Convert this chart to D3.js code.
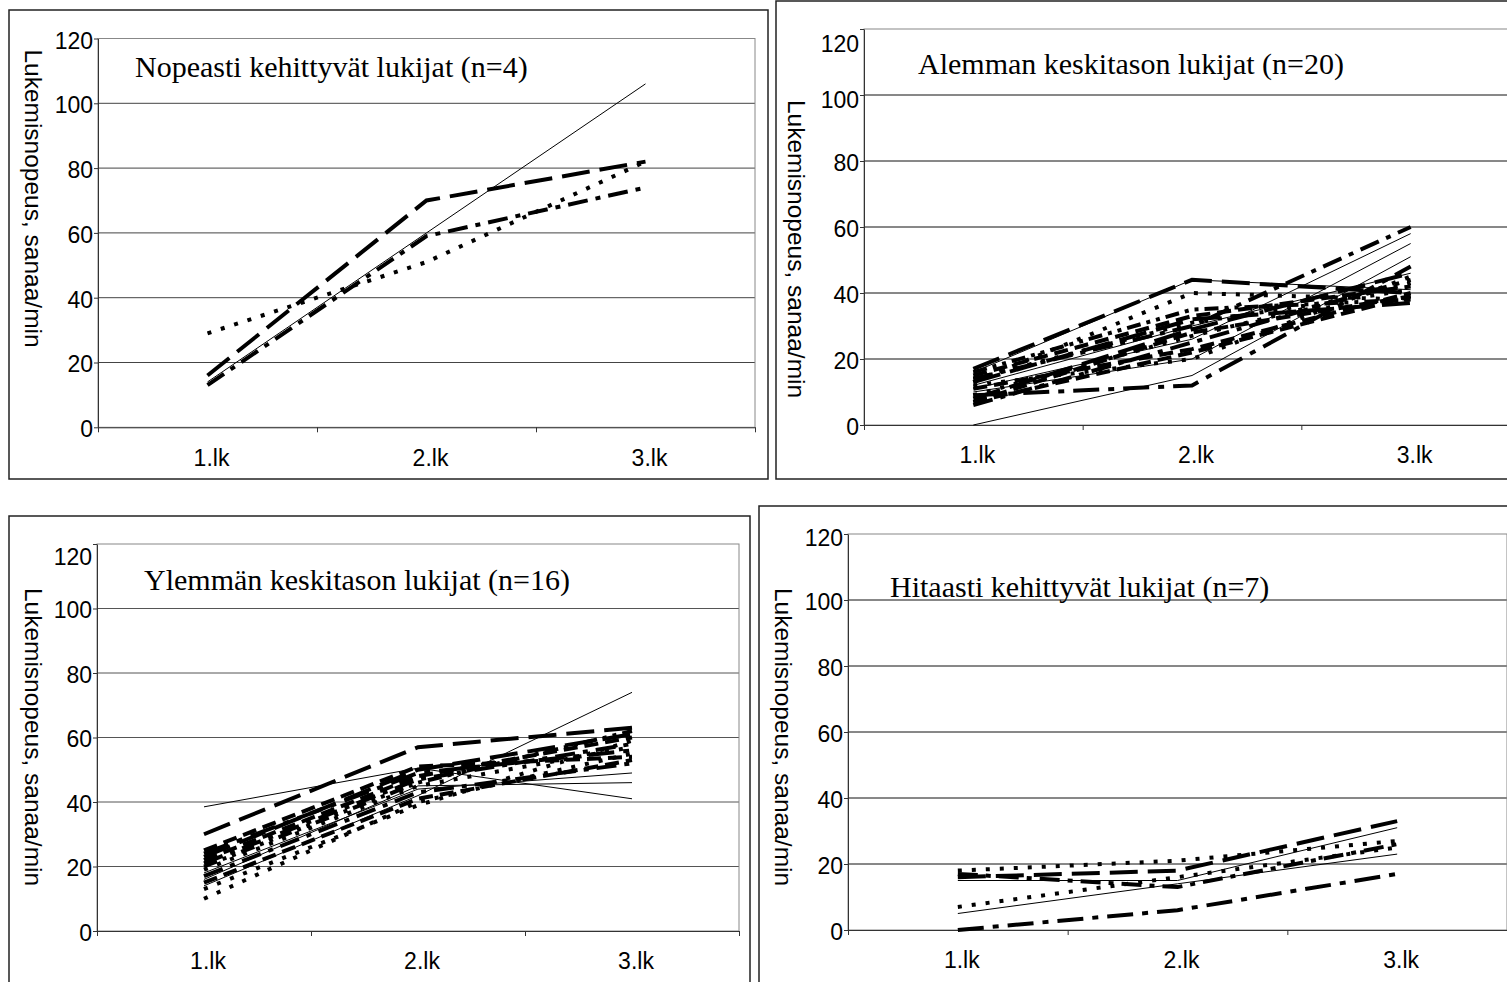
<!DOCTYPE html>
<html>
<head>
<meta charset="utf-8">
<script src="https://cdn.jsdelivr.net/npm/d3@7"></script>
<style>
body { margin: 0; background: #fff; }
svg { display: block; }
</style>
</head>
<body>
<svg id="chart" width="1507" height="982"></svg>
<script>
// data
const categories = ['1.lk', '2.lk', '3.lk'];
const yTicks = [0, 20, 40, 60, 80, 100, 120];
const yLabel = 'Lukemisnopeus, sanaa/min';
const titles = [
	'Nopeasti kehittyvät lukijat (n=4)',
	'Alemman keskitason lukijat (n=20)',
	'Ylemmän keskitason lukijat (n=16)',
	'Hitaasti kehittyvät lukijat (n=7)'
];

const fastValues = [[14, 60, 106], [16, 70, 82], [29, 51, 82], [13, 59, 74]];
const fastStyles = ['solid', 'longdash', 'dotted', 'dashdot'];

const lowerMidValues = [
	[0, 15, 51], [10, 20, 55], [16, 44, 41], [11, 26, 58], [12, 30, 46],
	[17, 44, 40], [13, 40, 38], [9, 12, 48], [12, 20, 45], [15, 33, 42],
	[14, 30, 60], [7, 28, 39], [6, 25, 44], [13, 32, 37], [9, 27, 43],
	[11, 23, 40], [16, 35, 38], [8, 29, 46], [14, 31, 41], [7, 22, 39]
];
const lowerMidStyles = [
	'solid', 'solid', 'solid', 'solid', 'solid',
	'longdash', 'dotted', 'longdashdot', 'dotted', 'dash',
	'dashdot', 'dash', 'dashdot', 'longdash', 'dotted',
	'dash', 'dashdotdot', 'longdash', 'dotted', 'dash'
];

const upperMidValues = [
	[38.5, 50.5, 41], [14, 42, 74], [16, 45, 46], [18, 44, 49],
	[30, 57, 63], [23, 50, 61], [21, 47, 58], [10, 40, 55],
	[22, 48, 60], [17, 43, 52], [19, 45, 57], [24, 49, 56],
	[15, 41, 53], [20, 46, 62], [13, 39, 59], [25, 51, 54]
];
const upperMidStyles = [
	'solid', 'solid', 'solid', 'solid',
	'longdash', 'longdash', 'dashdot', 'dotted',
	'dash', 'dashdot', 'dotted', 'longdashdot',
	'dash', 'dashdotdot', 'dotted', 'dash'
];

const slowValues = [[0, 6, 17], [5, 14, 23], [7, 16, 25], [15, 15, 31], [16, 18, 33], [18, 21, 27], [17, 13, 26]];
const slowStyles = ['longdashdot', 'solid', 'dotted', 'solid', 'longdash', 'dotted', 'dashdot'];

// line styles
const dashes = {
	solid: null,
	longdash: '28,10',
	dash: '14,7',
	dotted: '4,10',
	dashdot: '20,8,5,8',
	longdashdot: '26,9,6,9',
	dashdotdot: '14,6,4,6,4,6'
};

const svg = d3.select('#chart');
svg.append('rect').attr('width', 1507).attr('height', 982).attr('fill', '#fff');

// layout of the four panels: frame [x, y, w, h], plot [x0, y0, x1, y1]
const panels = [
	{title: titles[0], values: fastValues, styles: fastStyles,
		frame: [9, 10, 759, 469], plot: [98, 38.5, 755, 427.3],
		titlePos: [135, 77], labelPos: [33, 198.5], grid: '#444', shift: {120: 3}},
	{title: titles[1], values: lowerMidValues, styles: lowerMidStyles,
		frame: [776, 1, 800, 478], plot: [864, 29, 1520, 425],
		titlePos: [918, 74], labelPos: [796, 249], grid: '#111', shift: {120: 15, 100: 5}},
	{title: titles[2], values: upperMidValues, styles: upperMidStyles,
		frame: [9, 516, 741, 600], plot: [97, 544, 739, 931],
		titlePos: [144, 590], labelPos: [33, 737], grid: '#555', shift: {120: 13}},
	{title: titles[3], values: slowValues, styles: slowStyles,
		frame: [759, 506, 800, 600], plot: [848, 534, 1507, 930],
		titlePos: [890, 597], labelPos: [783, 737], grid: '#111', shift: {120: 4}}
];

panels.forEach(drawPanel);

function drawPanel(p) {
	const g = svg.append('g');
	const [x0, y0, x1, y1] = p.plot;

	g.append('rect')
		.attr('x', p.frame[0]).attr('y', p.frame[1])
		.attr('width', p.frame[2]).attr('height', p.frame[3])
		.attr('fill', 'none').attr('stroke', '#222').attr('stroke-width', 1.5);

	const x = d3.scaleBand().domain(categories).range([x0, x1]);
	const xEdge = d3.scaleLinear().domain([0, categories.length]).range([x0, x1]);
	const y = d3.scaleLinear().domain([0, 120]).range([y1, y0]);

	// gridlines
	g.append('g').selectAll('line')
		.data(yTicks.filter(v => v > 0 && v < 120))
		.join('line')
		.attr('x1', x0).attr('x2', x1)
		.attr('y1', d => y(d)).attr('y2', d => y(d))
		.attr('stroke', p.grid);

	// plot area border
	g.append('rect')
		.attr('x', x0).attr('y', y0)
		.attr('width', x1 - x0).attr('height', y1 - y0)
		.attr('fill', 'none').attr('stroke', '#888');

	// y axis
	const ya = g.append('g')
		.attr('transform', 'translate(' + x0 + ',0)')
		.call(d3.axisLeft(y).tickValues(yTicks).tickSize(4).tickSizeOuter(0).tickPadding(1));
	ya.attr('color', '#333')
		.attr('font-family', "'Liberation Sans', Arial, sans-serif")
		.attr('font-size', 23);
	ya.selectAll('.tick text')
		.attr('fill', '#000')
		.attr('y', d => (p.shift[d] !== undefined ? p.shift[d] : 2));

	// x axis: labels in band centres, ticks on band edges
	const xa = g.append('g')
		.attr('transform', 'translate(0,' + y1 + ')')
		.call(d3.axisBottom(x).tickSize(0).tickPadding(22));
	xa.select('.domain').remove();
	xa.attr('font-family', "'Liberation Sans', Arial, sans-serif")
		.attr('font-size', 23);
	xa.selectAll('.tick text').attr('fill', '#000').attr('dx', 4);

	g.append('g')
		.attr('transform', 'translate(0,' + y1 + ')')
		.attr('color', '#333')
		.call(d3.axisBottom(xEdge)
			.tickValues(d3.range(categories.length + 1))
			.tickFormat('')
			.tickSize(5)
			.tickSizeOuter(0));

	// series
	const line = d3.line()
		.x((d, i) => x(categories[i]) + x.bandwidth() / 2)
		.y(d => y(d));

	g.append('g').selectAll('path')
		.data(p.values)
		.join('path')
		.attr('d', line)
		.attr('fill', 'none')
		.attr('stroke', '#000')
		.attr('stroke-width', (d, i) => p.styles[i] === 'solid' ? 1 : 4)
		.attr('stroke-dasharray', (d, i) => dashes[p.styles[i]]);

	// title
	g.append('text')
		.attr('x', p.titlePos[0]).attr('y', p.titlePos[1])
		.attr('font-family', "'Liberation Serif', 'Times New Roman', serif")
		.attr('font-size', 30)
		.text(p.title);

	// y label, reading downwards
	g.append('text')
		.attr('transform', 'translate(' + p.labelPos[0] + ',' + p.labelPos[1] + ') rotate(90)')
		.attr('text-anchor', 'middle')
		.attr('dominant-baseline', 'central')
		.attr('font-family', "'Liberation Sans', Arial, sans-serif")
		.attr('font-size', 24.5)
		.text(yLabel);
}
</script>
</body>
</html>
